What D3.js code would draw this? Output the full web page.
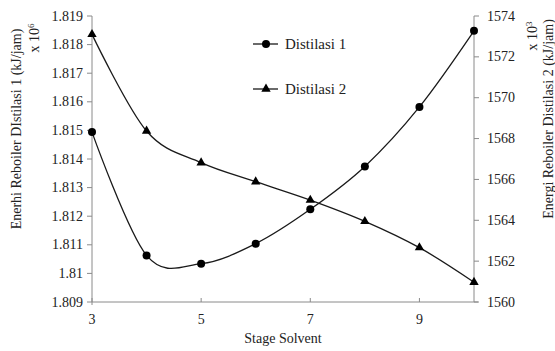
<!DOCTYPE html>
<html>
<head>
<meta charset="utf-8">
<script src="https://cdn.jsdelivr.net/npm/d3@7"></script>
<style>
  body { margin: 0; background: #fff; }
  svg text { font-family: 'Liberation Serif', 'Times New Roman', Times, 'DejaVu Serif', serif; fill: #222; }
</style>
</head>
<body>
<svg id="chart" width="555" height="351" font-family="Liberation Serif, Times New Roman, DejaVu Serif, serif"></svg>
<script>
const stages = [3, 4, 5, 6, 7, 8, 9, 10];
const distilasi1 = [1.81494, 1.81063, 1.81034, 1.81104, 1.81224, 1.81374, 1.81582, 1.81848];
const distilasi2 = [1573.1, 1568.37, 1566.82, 1565.89, 1564.99, 1563.95, 1562.66, 1560.97];
const xTicks = [3, 5, 7, 9];
const leftTicks = [1.809, 1.81, 1.811, 1.812, 1.813, 1.814, 1.815, 1.816, 1.817, 1.818, 1.819];
const rightTicks = [1560, 1562, 1564, 1566, 1568, 1570, 1572, 1574];

const svg = d3.select('#chart');
const axisColor = '#8a8a8a';
const lineColor = '#1a1a1a';

const x = d3.scaleLinear().domain([3, 10]).range([92, 474]);
const yL = d3.scaleLinear().domain([1.809, 1.819]).range([302, 16]);
const yR = d3.scaleLinear().domain([1560, 1574]).range([302, 16]);

// axes
const gx = svg.append('g').attr('transform', 'translate(0,302)');
gx.append('line').attr('x1', 92).attr('x2', 478).attr('stroke', axisColor);
gx.selectAll('.tk').data(xTicks).enter().append('line')
  .attr('x1', d => x(d)).attr('x2', d => x(d)).attr('y1', 0).attr('y2', -4)
  .attr('stroke', axisColor);
gx.selectAll('text').data(xTicks).enter().append('text')
  .attr('x', d => x(d)).attr('y', 22).attr('text-anchor', 'middle')
  .attr('font-size', 14).text(d => d);

const gl = svg.append('g');
gl.append('line').attr('x1', 92).attr('x2', 92).attr('y1', 16).attr('y2', 305).attr('stroke', axisColor);
gl.selectAll('.tk').data(leftTicks).enter().append('line')
  .attr('x1', 87).attr('x2', 92).attr('y1', d => yL(d)).attr('y2', d => yL(d))
  .attr('stroke', axisColor);
gl.selectAll('text').data(leftTicks).enter().append('text')
  .attr('x', 83).attr('y', d => yL(d) + 4.5).attr('text-anchor', 'end')
  .attr('font-size', 14).text(d => +d.toFixed(3));

const gr = svg.append('g');
gr.append('line').attr('x1', 474).attr('x2', 474).attr('y1', 16).attr('y2', 302).attr('stroke', axisColor);
gr.selectAll('.tk').data(rightTicks).enter().append('line')
  .attr('x1', 474).attr('x2', 479).attr('y1', d => yR(d)).attr('y2', d => yR(d))
  .attr('stroke', axisColor);
gr.selectAll('text').data(rightTicks).enter().append('text')
  .attr('x', 487).attr('y', d => yR(d) + 4.5).attr('text-anchor', 'start')
  .attr('font-size', 14).text(d => d);

// axis titles
svg.append('text').attr('x', 283).attr('y', 343).attr('text-anchor', 'middle')
  .attr('font-size', 14).text('Stage Solvent');

svg.append('text').attr('transform', 'translate(21,129) rotate(-90)')
  .attr('text-anchor', 'middle').attr('font-size', 14)
  .text('Enerhi Reboiler DIstilasi 1 (kJ/jam)');
const t6 = svg.append('text').attr('transform', 'translate(39,38) rotate(-90)')
  .attr('text-anchor', 'middle').attr('font-size', 14);
t6.append('tspan').text('x 10');
t6.append('tspan').attr('font-size', 9).attr('dy', -5).text('6');

svg.append('text').attr('transform', 'translate(553,119) rotate(-90)')
  .attr('text-anchor', 'middle').attr('font-size', 14)
  .text('Energi Reboiler Distilasi 2 (kJ/jam)');
const t3 = svg.append('text').attr('transform', 'translate(537,36) rotate(-90)')
  .attr('text-anchor', 'middle').attr('font-size', 14);
t3.append('tspan').text('x 10');
t3.append('tspan').attr('font-size', 9).attr('dy', -5).text('3');

// series
const curve = d3.curveCardinal.tension(0);
const line1 = d3.line().x((d, i) => x(stages[i])).y(d => yL(d)).curve(curve);
const line2 = d3.line().x((d, i) => x(stages[i])).y(d => yR(d)).curve(curve);

svg.append('path').datum(distilasi1).attr('d', line1)
  .attr('fill', 'none').attr('stroke', lineColor).attr('stroke-width', 1.3);
svg.append('path').datum(distilasi2).attr('d', line2)
  .attr('fill', 'none').attr('stroke', lineColor).attr('stroke-width', 1.3);

const tri = d3.symbol().type(d3.symbolTriangle).size(38);

svg.append('g').selectAll('circle').data(distilasi1).enter().append('circle')
  .attr('cx', (d, i) => x(stages[i])).attr('cy', d => yL(d)).attr('r', 4)
  .attr('fill', '#000');
svg.append('g').selectAll('path').data(distilasi2).enter().append('path')
  .attr('d', tri)
  .attr('transform', (d, i) => `translate(${x(stages[i])},${yR(d)})`)
  .attr('fill', '#000');

// legend
const legend = [
  { name: 'Distilasi 1', y: 44, mark: 'circle' },
  { name: 'Distilasi 2', y: 89, mark: 'tri' }
];
const lg = svg.append('g').selectAll('g').data(legend).enter().append('g')
  .attr('transform', d => `translate(0,${d.y})`);
lg.append('line').attr('x1', 253).attr('x2', 278).attr('stroke', lineColor).attr('stroke-width', 1.3);
lg.filter(d => d.mark === 'circle').append('circle').attr('cx', 266).attr('r', 4).attr('fill', '#000');
lg.filter(d => d.mark === 'tri').append('path').attr('d', tri).attr('transform', 'translate(266,0)').attr('fill', '#000');
lg.append('text').attr('x', 285).attr('y', 5).attr('font-size', 15).text(d => d.name);
</script>
</body>
</html>
